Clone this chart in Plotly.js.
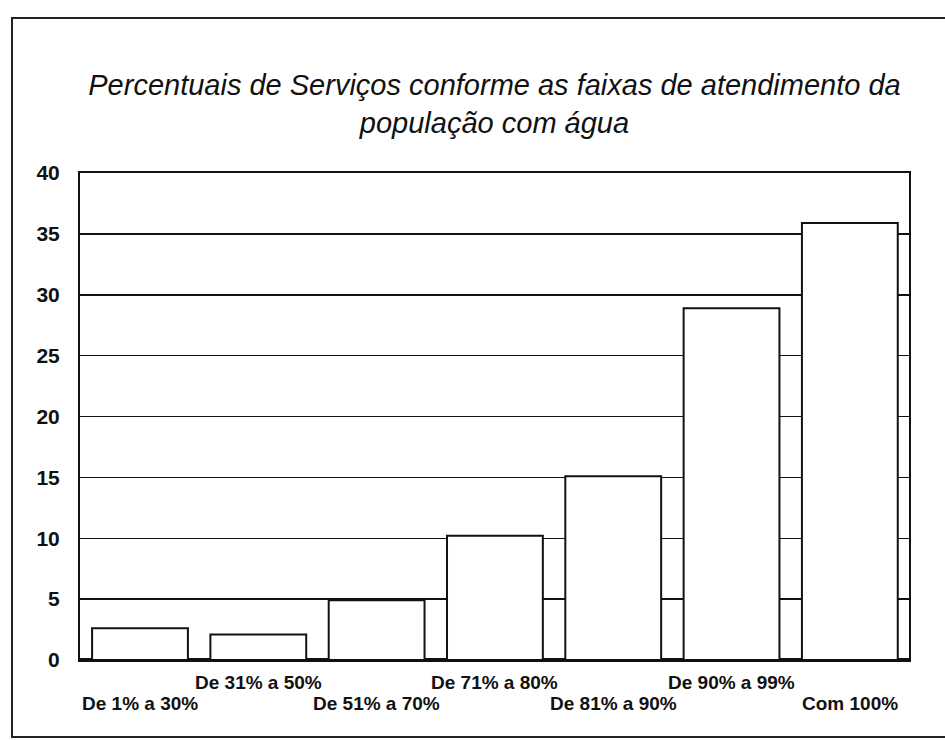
<!DOCTYPE html>
<html>
<head>
<meta charset="utf-8">
<script src="https://cdn.plot.ly/plotly-3.0.1.min.js"></script>
<style>
  body { margin: 0; background: #fff; }
  #chart { width: 945px; height: 740px; }
</style>
</head>
<body>
<div id="chart"></div>
<script>
// faixas de atendimento (eixo x) e percentual de serviços (eixo y)
var faixas = ['De 1% a 30%', 'De 31% a 50%', 'De 51% a 70%', 'De 71% a 80%',
              'De 81% a 90%', 'De 90% a 99%', 'Com 100%'];
var percentuais = [2.6, 2.1, 4.9, 10.2, 15.1, 28.9, 35.9];
// rótulos alternados: 0 = linha de baixo, 1 = linha de cima
var linhaRotulo = [0, 1, 0, 1, 0, 1, 0];
var yTicks = [0, 5, 10, 15, 20, 25, 30, 35, 40];

var fonte = 'Liberation Sans, Arial, sans-serif';

var trace = {
  type: 'bar',
  x: faixas,
  y: percentuais,
  marker: { color: '#ffffff', line: { color: '#111111', width: 2 } },
  hoverinfo: 'x+y'
};

// rótulos das categorias em duas linhas, como no original
var rotulos = faixas.map(function (f, i) {
  return {
    x: f, xref: 'x',
    y: 0, yref: 'paper',
    yanchor: 'middle',
    yshift: linhaRotulo[i] == 1 ? -22 : -43,
    text: f,
    showarrow: false,
    font: { family: fonte, size: 19, color: '#111', weight: 'bold' }
  };
});

var layout = {
  width: 945,
  height: 740,
  margin: { l: 80, r: 36, t: 173, b: 80 },
  paper_bgcolor: '#ffffff',
  plot_bgcolor: '#ffffff',
  font: { family: fonte, color: '#111' },
  showlegend: false,
  bargap: 0.19,
  title: {
    text: 'Percentuais de Serviços conforme as faixas de atendimento da<br>população com água',
    font: { family: fonte, size: 29, style: 'italic', color: '#111' },
    x: 0.5, xref: 'paper',
    y: 1 - 95 / 740, yref: 'container', yanchor: 'top'
  },
  xaxis: {
    type: 'category',
    showticklabels: false,
    ticks: '',
    showgrid: false,
    showline: true, mirror: true, linecolor: '#111', linewidth: 2,
    fixedrange: true
  },
  yaxis: {
    range: [0, 40],
    tickvals: yTicks,
    ticktext: yTicks.map(String),
    ticks: '',
    ticklabelstandoff: 14,
    tickfont: { family: fonte, size: 21, color: '#111', weight: 'bold' },
    showgrid: true, gridcolor: '#111', gridwidth: 1.5,
    zeroline: true, zerolinecolor: '#111', zerolinewidth: 4,
    showline: true, mirror: true, linecolor: '#111', linewidth: 2,
    fixedrange: true
  },
  annotations: rotulos,
  shapes: [{
    // moldura externa da figura digitalizada
    type: 'rect', xref: 'paper', yref: 'paper',
    x0: (12 - 80) / 829, x1: (962 - 80) / 829,
    y0: (660 - 737) / 487, y1: (660 - 18) / 487,
    line: { color: '#222', width: 2 }
  }]
};

Plotly.newPlot('chart', [trace], layout, { displayModeBar: false, staticPlot: true });
</script>
</body>
</html>
